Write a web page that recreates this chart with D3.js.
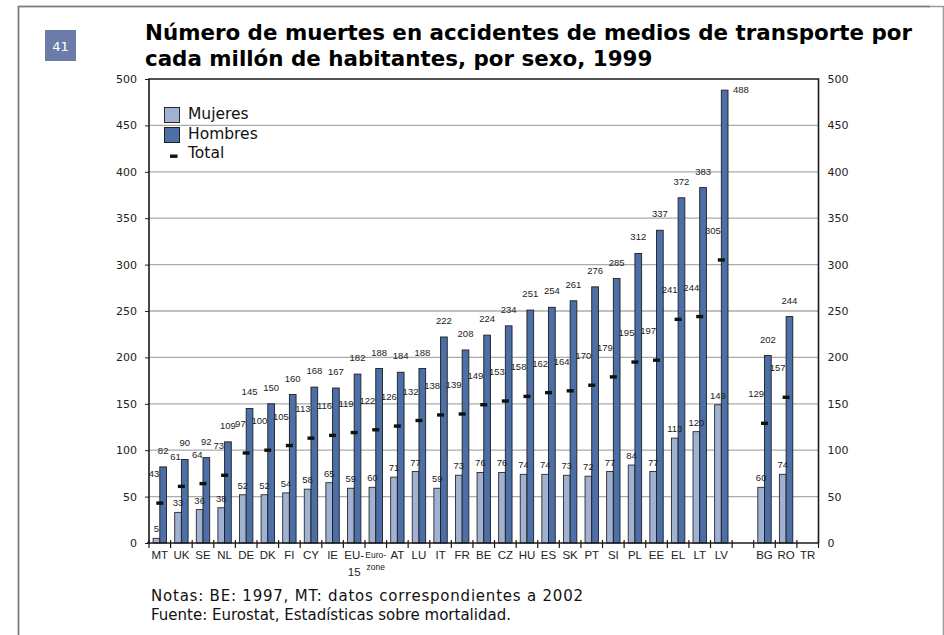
<!DOCTYPE html>
<html>
<head>
<meta charset="utf-8">
<script src="https://cdn.jsdelivr.net/npm/d3@7"></script>
<style>
  html, body { margin: 0; padding: 0; background: #fff; }
  svg { display: block; }
</style>
</head>
<body>
<svg id="chart" width="944" height="635"></svg>
<script>
// Country codes, in drawing order ("" marks the empty slot before the candidate countries)
const categories = ["MT","UK","SE","NL","DE","DK","FI","CY","IE","EU-15","Euro-zone","AT","LU","IT","FR","BE","CZ","HU","ES","SK","PT","SI","PL","EE","EL","LT","LV","","BG","RO","TR"];
// Deaths per million inhabitants, 1999
const women = [5,33,36,38,52,52,54,58,65,59,60,71,77,59,73,76,76,74,74,73,72,77,84,77,113,120,149,null,60,74,null];
const men   = [82,90,92,109,145,150,160,168,167,182,188,184,188,222,208,224,234,251,254,261,276,285,312,337,372,383,488,null,202,244,null];
const total = [43,61,64,73,97,100,105,113,116,119,122,126,132,138,139,149,153,158,162,164,170,179,195,197,241,244,305,null,129,157,null];
const yTicks = [0,50,100,150,200,250,300,350,400,450,500];

const COL_W = "#a1b1d1", COL_M = "#4b6fa6", COL_BADGE = "#6b7ca9";
const svg = d3.select("#chart");

// page frame
svg.append("path").attr("d", "M18.5,640 V6.5 H943.5 V640")
  .attr("fill", "none").attr("stroke", "#9a9a9a").attr("stroke-width", 1.5);
svg.append("path").attr("d", "M18.5,640 V6.5 H930")
  .attr("fill", "none").attr("stroke", "#7d7d7d").attr("stroke-width", 1.5);

// figure number badge
svg.append("rect").attr("x", 45).attr("y", 30).attr("width", 31).attr("height", 31).attr("fill", COL_BADGE);
svg.append("text").attr("x", 60.5).attr("y", 50.5).attr("text-anchor", "middle")
  .attr("font-family", "DejaVu Sans, Verdana, sans-serif").attr("font-size", 13).attr("fill", "#fff").text("41");

// title
const title = svg.append("text").attr("font-family", "DejaVu Sans, Verdana, sans-serif")
  .attr("font-weight", "bold").attr("font-size", 21.4).attr("fill", "#000");
title.append("tspan").attr("x", 145).attr("y", 40).text("Número de muertes en accidentes de medios de transporte por");
title.append("tspan").attr("x", 145).attr("y", 66).text("cada millón de habitantes, por sexo, 1999");

// plot area
const L = 149, R = 818.5, T = 79, B = 543;
const keys = categories.map((c, i) => c === "" ? "_gap" + i : c);
const x = d3.scaleBand().domain(keys).range([L, R]).paddingInner(0).paddingOuter(0);
const y = d3.scaleLinear().domain([0, 500]).range([B, T]);
const bw = x.bandwidth();
const barW = bw * 0.31;
const offW = bw * 0.19, offM = offW + barW;

// gridlines
svg.append("g").selectAll("line").data(yTicks.filter(v => v > 0 && v < 500)).join("line")
  .attr("x1", L).attr("x2", R).attr("y1", d => y(d)).attr("y2", d => y(d))
  .attr("stroke", "#ababab").attr("stroke-width", 1.3);

// left axis
const leftAxis = svg.append("g").attr("transform", `translate(${L},0)`)
  .call(d3.axisLeft(y).tickValues(yTicks).tickSize(4).tickPadding(8));
// right axis
const rightAxis = svg.append("g").attr("transform", `translate(${R},0)`)
  .call(d3.axisRight(y).tickValues(yTicks).tickSize(0).tickPadding(9));
[leftAxis, rightAxis].forEach(g => {
  g.select(".domain").remove();
  g.selectAll("line").attr("stroke", "#222");
  g.selectAll("text").attr("font-family", "DejaVu Sans, Verdana, sans-serif").attr("font-size", 11).attr("fill", "#222");
});

// box: top line and vertical axes
svg.append("path").attr("d", `M${L},${B} V${T} H${R} V${B}`)
  .attr("fill", "none").attr("stroke", "#1a1a1a").attr("stroke-width", 1.6);

const rows = categories.map((c, i) => ({ key: keys[i], cat: c, w: women[i], m: men[i], t: total[i] }));
const drawn = rows.filter(d => d.m != null);

// women bars
svg.append("g").selectAll("rect").data(drawn).join("rect")
  .attr("x", d => x(d.key) + offW).attr("width", barW)
  .attr("y", d => y(d.w)).attr("height", d => y(0) - y(d.w))
  .attr("fill", COL_W).attr("stroke", "#2a2a2a").attr("stroke-width", 0.9);
// men bars
svg.append("g").selectAll("rect").data(drawn).join("rect")
  .attr("x", d => x(d.key) + offM).attr("width", barW)
  .attr("y", d => y(d.m)).attr("height", d => y(0) - y(d.m))
  .attr("fill", COL_M).attr("stroke", "#1e1e1e").attr("stroke-width", 0.9);
// total markers
svg.append("g").selectAll("rect").data(drawn).join("rect")
  .attr("x", d => x(d.key) + offM - 3.5).attr("width", 7)
  .attr("y", d => y(d.t) - 1.7).attr("height", 3.4)
  .attr("fill", "#111");

// bottom axis line and slot ticks
svg.append("line").attr("x1", L - 2).attr("x2", R).attr("y1", B).attr("y2", B)
  .attr("stroke", "#1a1a1a").attr("stroke-width", 1.6);
const bounds = keys.map(k => x(k)).concat([R]);
svg.append("g").selectAll("line").data(bounds).join("line")
  .attr("x1", d => d).attr("x2", d => d).attr("y1", B - 3).attr("y2", B + 5)
  .attr("stroke", "#1a1a1a").attr("stroke-width", 1.2);

// value labels
const lblFont = "Liberation Sans, Arial, sans-serif";
const vl = svg.append("g").attr("font-family", lblFont).attr("font-size", 9.5).attr("fill", "#222");
vl.selectAll("text.w").data(drawn).join("text").attr("class", "w")
  .attr("x", d => x(d.key) + offW + barW / 2).attr("y", d => y(d.w) - 6)
  .attr("text-anchor", "middle").text(d => d.w);
vl.selectAll("text.m").data(drawn).join("text").attr("class", "m")
  .each(function(d) {
    const top = y(d.m) - 13;
    const s = d3.select(this);
    if (top < T + 10) {
      s.attr("x", x(d.key) + offM + barW + 5).attr("y", y(d.m) + 3).attr("text-anchor", "start");
    } else {
      s.attr("x", x(d.key) + offM + barW / 2).attr("y", top).attr("text-anchor", "middle");
    }
  }).text(d => d.m);
vl.selectAll("text.t").data(drawn).join("text").attr("class", "t")
  .attr("x", d => x(d.key) + offM - 0.5).attr("y", d => y(d.t) - 26)
  .attr("text-anchor", "end").text(d => d.t);

// category labels
const cl = svg.append("g").attr("font-family", lblFont).attr("fill", "#222").attr("text-anchor", "middle");
rows.filter(d => d.cat !== "").forEach(d => {
  const cx = x(d.key) + bw / 2;
  if (d.cat === "EU-15") {
    cl.append("text").attr("x", cx).attr("y", B + 16).attr("font-size", 11.5).text("EU-");
    cl.append("text").attr("x", cx).attr("y", B + 33).attr("font-size", 11.5).text("15");
  } else if (d.cat === "Euro-zone") {
    cl.append("text").attr("x", cx).attr("y", B + 15).attr("font-size", 8.5).text("Euro-");
    cl.append("text").attr("x", cx).attr("y", B + 27).attr("font-size", 8.5).text("zone");
  } else {
    cl.append("text").attr("x", cx).attr("y", B + 16).attr("font-size", 11.5).text(d.cat);
  }
});

// legend
const lg = svg.append("g").attr("font-family", "DejaVu Sans, Verdana, sans-serif").attr("font-size", 15.5).attr("fill", "#111");
lg.append("rect").attr("x", 164.5).attr("y", 107.5).attr("width", 15).attr("height", 15)
  .attr("fill", COL_W).attr("stroke", "#2a2a2a").attr("stroke-width", 1);
lg.append("rect").attr("x", 164.5).attr("y", 127.5).attr("width", 15).attr("height", 15)
  .attr("fill", COL_M).attr("stroke", "#1e1e1e").attr("stroke-width", 1);
lg.append("rect").attr("x", 170).attr("y", 154.5).attr("width", 7.5).attr("height", 3.4).attr("fill", "#111");
lg.append("text").attr("x", 188).attr("y", 119).text("Mujeres");
lg.append("text").attr("x", 188).attr("y", 138.5).text("Hombres");
lg.append("text").attr("x", 188).attr("y", 157.5).text("Total");

// notes
const nt = svg.append("g").attr("font-family", "DejaVu Sans, Verdana, sans-serif").attr("font-size", 15).attr("fill", "#111");
nt.append("text").attr("x", 151).attr("y", 601)
  .attr("textLength", 432).attr("lengthAdjust", "spacing")
  .text("Notas: BE: 1997, MT: datos correspondientes a 2002");
nt.append("text").attr("x", 151).attr("y", 620).text("Fuente: Eurostat, Estadísticas sobre mortalidad.");
</script>
</body>
</html>
